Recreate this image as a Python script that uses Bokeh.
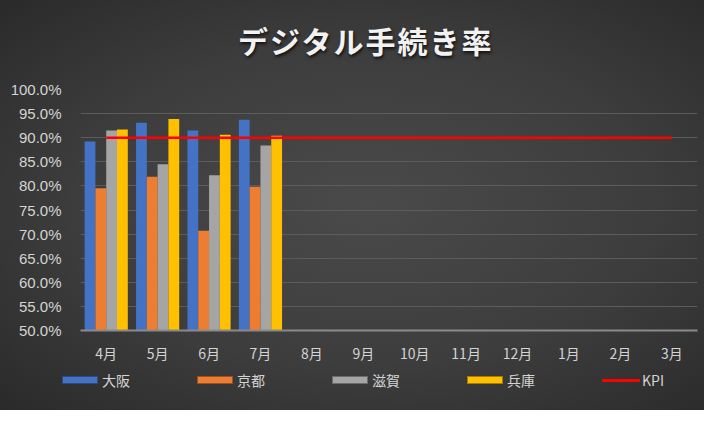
from bokeh.plotting import figure
from bokeh.layouts import column
from bokeh.models import ColumnDataSource, NumeralTickFormatter, FixedTicker, Div
from bokeh.transform import dodge
from bokeh.embed import file_html
from bokeh.resources import INLINE

months = ["4月", "5月", "6月", "7月", "8月", "9月", "10月", "11月", "12月", "1月", "2月", "3月"]
osaka = [0.892, 0.931, 0.915, 0.937]
kyoto = [0.795, 0.819, 0.707, 0.798]
shiga = [0.915, 0.845, 0.822, 0.884]
hyogo = [0.917, 0.939, 0.906, 0.904]
kpi = [0.90] * 12
series_names = ["大阪", "京都", "滋賀", "兵庫"]
colors = ["#4472C4", "#ED7D31", "#A5A5A5", "#FFC000"]
kpi_color = "#FF0000"
title = "デジタル手続き率"

TXT = "#d4d4d4"
JP = "Noto Sans CJK JP"

src = ColumnDataSource(data=dict(month=months[:4], osaka=osaka, kyoto=kyoto, shiga=shiga, hyogo=hyogo))
kpi_src = ColumnDataSource(data=dict(month=months, kpi=kpi))

# title (html so it can carry the soft shadow)
title_div = Div(width=704, height=60, margin=0,
                text=f'<div style="position:relative;width:704px;height:60px;">'
                     f'<span style="position:absolute;left:238px;top:22px;line-height:36px;'
                     f'font-family:\'{JP}\';font-size:30px;font-weight:bold;letter-spacing:2px;'
                     f'color:#f2f2f2;text-shadow:1px 2px 3px #111;white-space:nowrap;">{title}</span></div>')

# main chart
p = figure(x_range=months, y_range=(0.5, 1.0), frame_width=617, frame_height=241,
           output_backend="svg", toolbar_location=None,
           background_fill_alpha=0, border_fill_alpha=0, margin=0,
           min_border_left=80, min_border_right=7, min_border_top=29, min_border_bottom=40)
p.outline_line_color = None

bw = 0.21
offsets = [-1.5 * bw, -0.5 * bw, 0.5 * bw, 1.5 * bw]
for key, off, col in zip(["osaka", "kyoto", "shiga", "hyogo"], offsets, colors):
    p.vbar(x=dodge("month", off, range=p.x_range), top=key, bottom=0.5, width=bw,
           source=src, fill_color=col, line_color=None)

p.line(x="month", y="kpi", source=kpi_src, line_color=kpi_color, line_width=2.5)

p.xgrid.grid_line_color = None
p.ygrid.grid_line_color = "#5c5c5c"
p.ygrid.grid_line_width = 1

p.yaxis.ticker = FixedTicker(ticks=[0.5, 0.55, 0.6, 0.65, 0.7, 0.75, 0.8, 0.85, 0.9, 0.95, 1.0])
p.yaxis.formatter = NumeralTickFormatter(format="0.0%")
p.yaxis.axis_line_color = None
p.yaxis.major_tick_line_color = None
p.yaxis.minor_tick_line_color = None
p.yaxis.major_label_text_color = TXT
p.yaxis.major_label_text_font = "Liberation Sans"
p.yaxis.major_label_text_font_size = "15px"
p.yaxis.major_label_standoff = 13

p.xaxis.axis_line_color = "#8a8a8a"
p.xaxis.axis_line_width = 2
p.xaxis.major_tick_line_color = None
p.xaxis.major_label_text_color = TXT
p.xaxis.major_label_text_font = JP
p.xaxis.major_label_text_font_size = "14px"
p.xaxis.major_label_standoff = 6

# legend strip
parts = []
for i, (name, col) in enumerate(zip(series_names + ["KPI"], colors + [kpi_color])):
    x0 = 62 + i * 135
    if name == "KPI":
        sw = f'<div style="position:absolute;left:{x0}px;top:9px;width:38px;height:3px;background:{col};"></div>'
    else:
        sw = (f'<div style="position:absolute;left:{x0}px;top:6px;width:36px;height:8px;'
              f'background:{col};border:1px solid rgba(0,0,0,0.35);"></div>')
    lab = (f'<span style="position:absolute;left:{x0 + 40}px;top:0px;line-height:20px;'
           f'font-family:\'{JP}\';font-size:14px;color:{TXT};white-space:nowrap;">{name}</span>')
    parts.append(sw + lab)
legend_div = Div(width=704, height=40, margin=0,
                 text='<div style="position:relative;width:704px;height:40px;">' + "".join(parts) + "</div>")

layout = column(title_div, p, legend_div, spacing=0,
                styles={"background": "radial-gradient(ellipse at 52% 50%, #4a4a4a 0%, #3d3d3d 55%, #2a2a2a 100%)"})
open("out.html", "w").write(file_html(layout, INLINE))
